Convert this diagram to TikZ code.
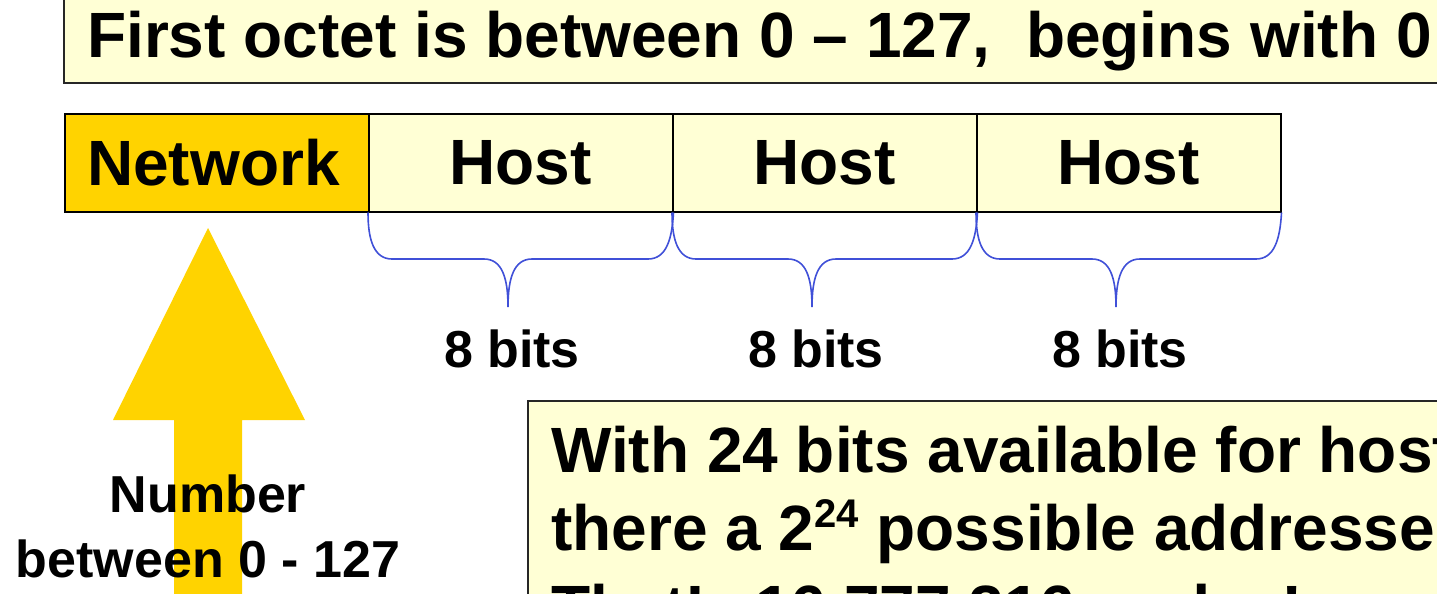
\documentclass[tikz,border=0pt]{standalone}
\usepackage{fontspec}
\setmainfont{Liberation Sans}
\definecolor{paleyellow}{HTML}{FFFFD5}
\definecolor{gold}{HTML}{FFD300}
\definecolor{braceblue}{HTML}{4050D8}
\newcommand\FontBig{\fontsize{64}{77}\selectfont\bfseries}
\newcommand\FontMid{\fontsize{52}{62}\selectfont\bfseries}
\newcommand\SupText[1]{\raisebox{23pt}{\fontsize{40}{40}\selectfont\bfseries #1}}
\tikzset{
  field/.style={draw=black, line width=1.5pt, minimum width=304pt, minimum height=98pt,
    inner sep=0pt, font=\FontBig, text=black, anchor=north west},
  bracepath/.style={draw=braceblue, line width=1.6pt},
  txt/.style={inner sep=0pt, anchor=base west, font=\FontBig},
  midtxt/.style={inner sep=0pt, anchor=base, font=\FontMid},
  panel/.style={fill=paleyellow, draw=black!85, line width=1.5pt}
}
\begin{document}
\begin{tikzpicture}[x=1pt,y=-1pt]
\useasboundingbox (0,0) rectangle (1437,594);
\clip (0,0) rectangle (1437,594);
\fill[white] (0,0) rectangle (1437,594);
% title panel
\draw[panel] (64,-20) rectangle (1470,83);
\node[txt] (title) at (87,58) {First octet is between 0 – 127,\ \ begins with 0};
% address fields
\node[field, fill=gold] (net) at (64,113) {};
\node[txt] (nettext) at (87,185) {Network};
\node[field, fill=paleyellow] (h1) at (368,113) {Host};
\node[field, fill=paleyellow] (h2) at (672,113) {Host};
\node[field, fill=paleyellow] (h3) at (976,113) {Host};
% braces
\foreach \n/\L in {h1/368, h2/672, h3/976}{
  \pgfmathsetmacro{\T}{\L+140}
  \pgfmathsetmacro{\R}{\L+304}
  \draw[bracepath] (\n.south west) .. controls (\L,240) and (\L+6,259) .. (\L+24,259)
    -- (\T-24,259) .. controls (\T-6,259) and (\T,278) .. (\T,307)
    .. controls (\T,278) and (\T+6,259) .. (\T+24,259)
    -- (\R-24,259) .. controls (\R-6,259) and (\R,240) .. (\n.south east);
}
\node[midtxt] (b1) at (512,367) {8 bits};
\node[midtxt] (b2) at (816,367) {8 bits};
\node[midtxt] (b3) at (1120,367) {8 bits};
% yellow arrow
\fill[gold] (208,228) -- (305,420) -- (242,420) -- (242,610) -- (174,610) -- (174,420) -- (113,420) -- cycle;
\node[midtxt] (num1) at (208,512) {Number};
\node[midtxt] (num2) at (208,577) {between 0 - 127};
% bottom panel
\draw[panel] (528,401) rectangle (1470,660);
\node[txt] (l1) at (551,472) {With 24 bits available for hosts,};
\node[txt] (l2) at (551,550) {there a 2\SupText{24} possible addresses.};
\node[txt] (l3) at (551,630) {That’s 16,777,216 nodes!};
\end{tikzpicture}
\end{document}
